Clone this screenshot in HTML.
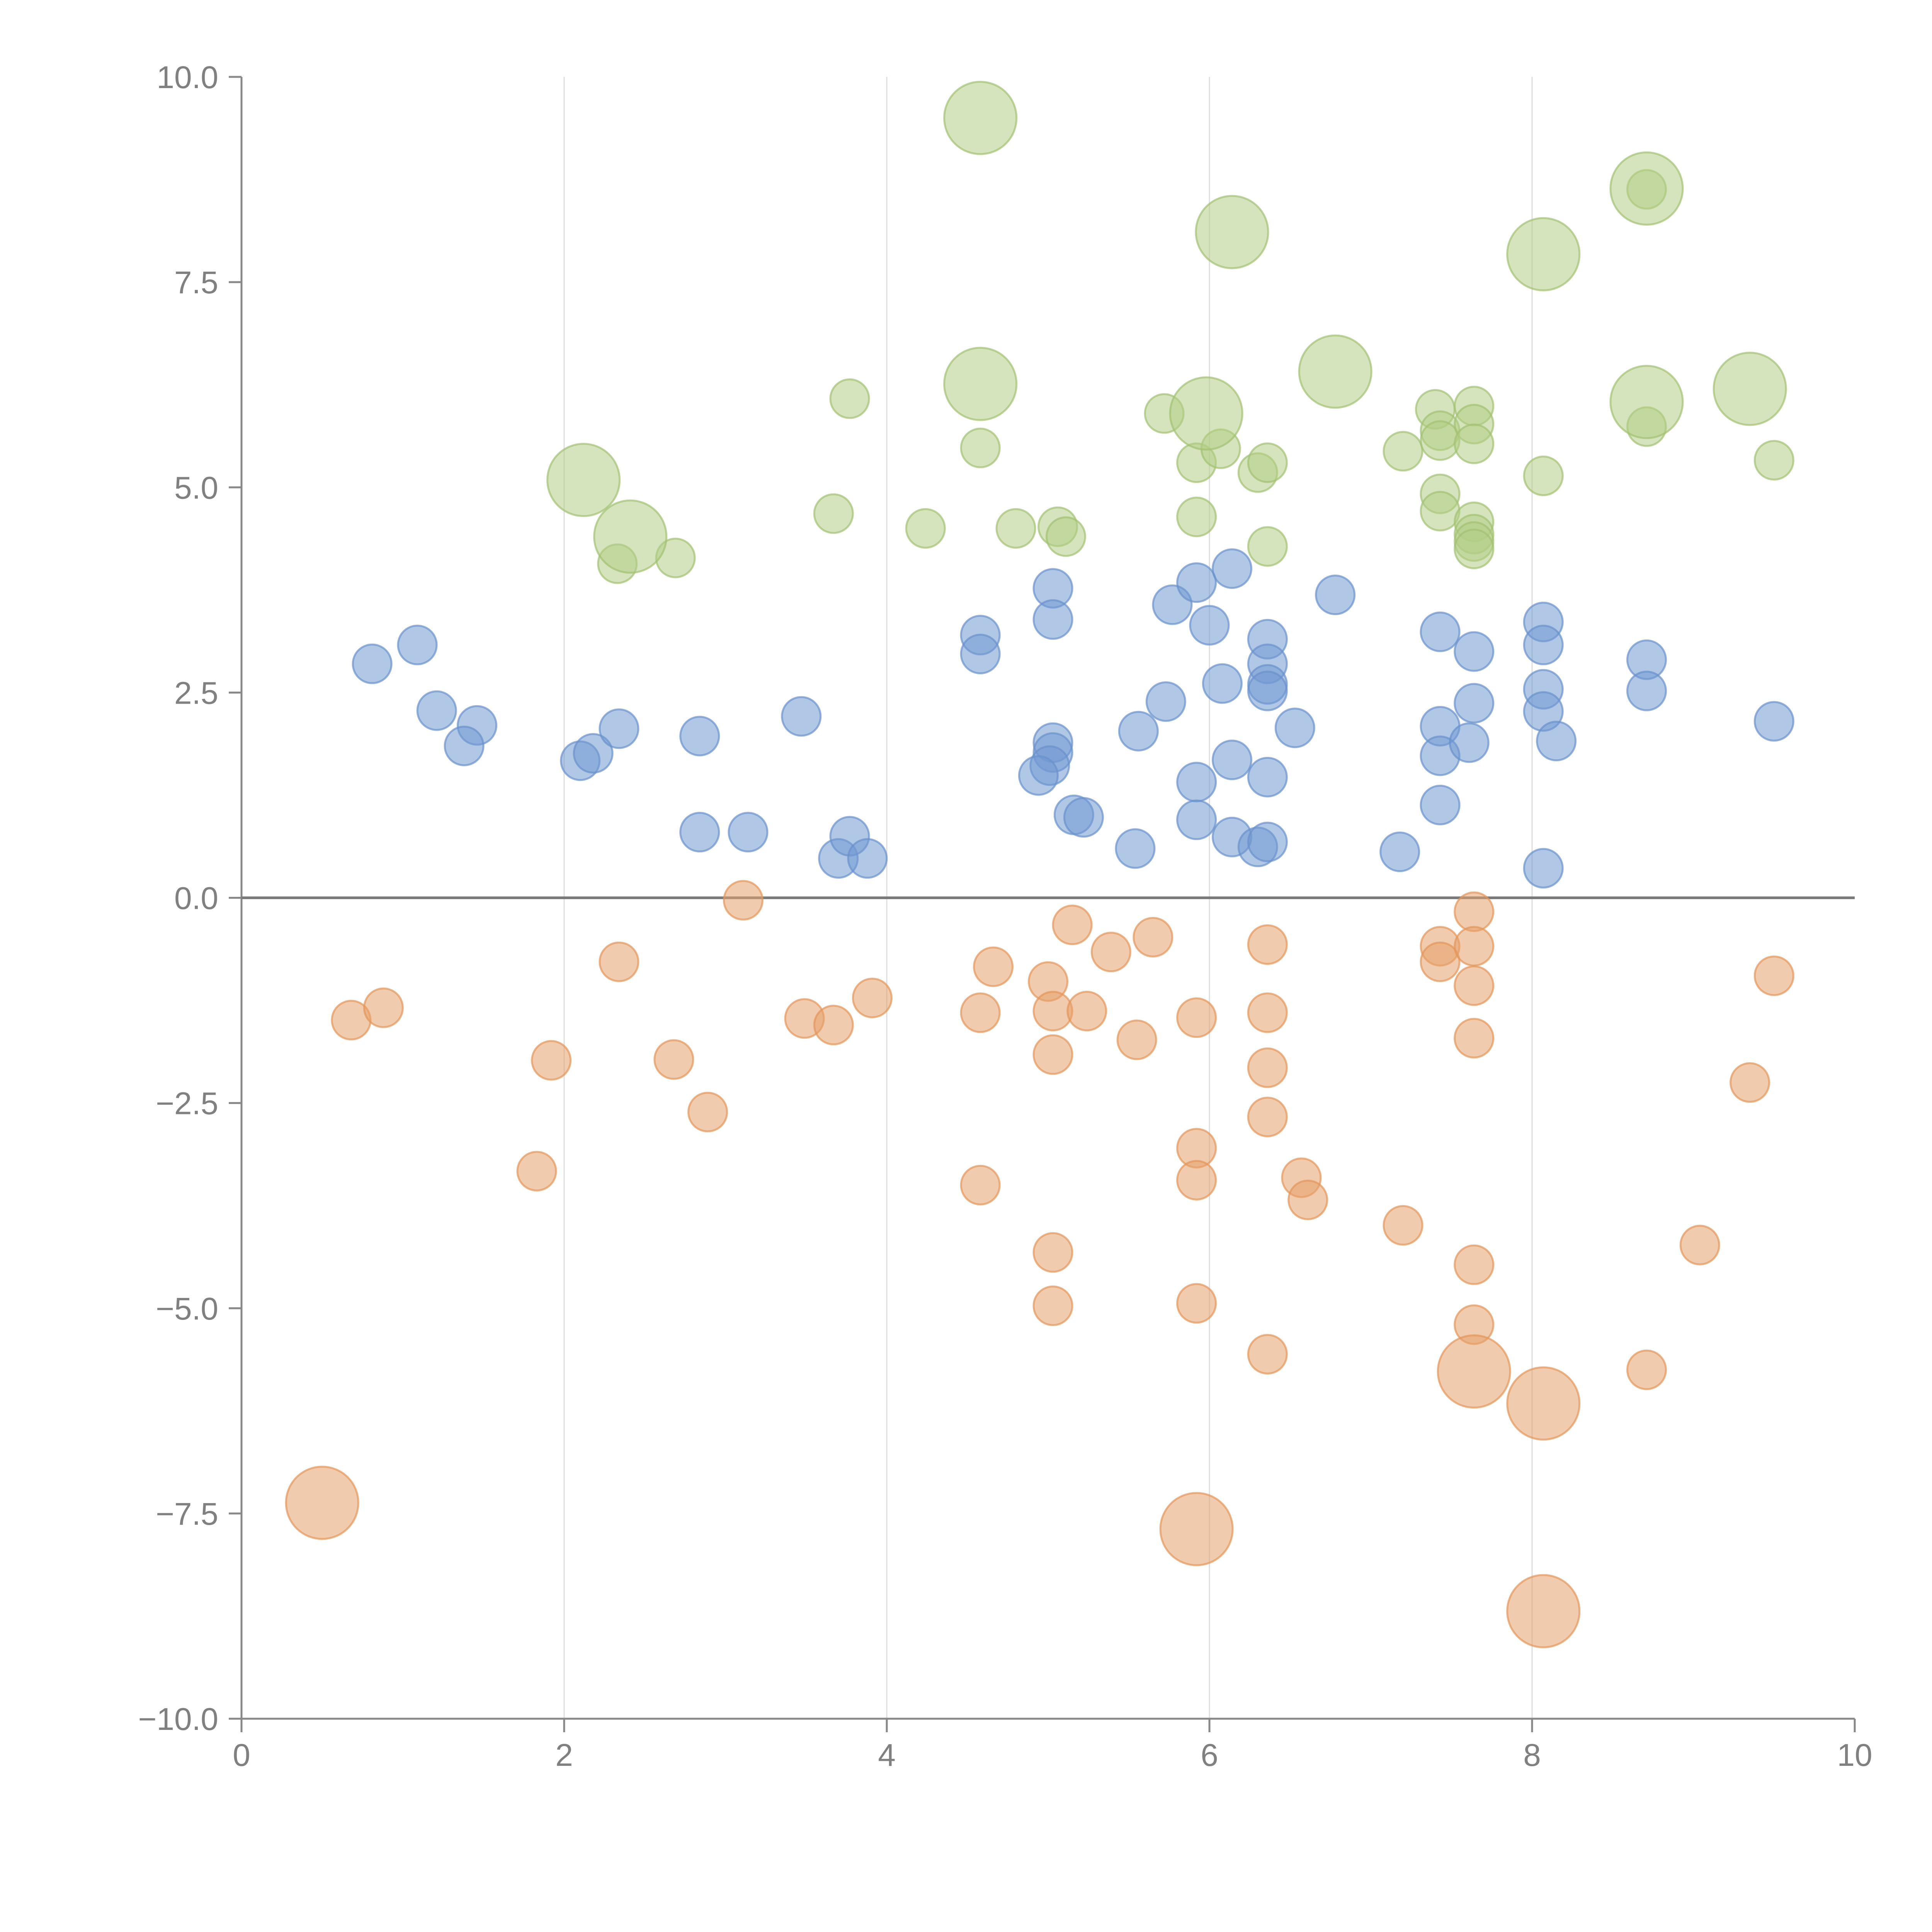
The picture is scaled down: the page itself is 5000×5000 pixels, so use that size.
<!DOCTYPE html>
<html><head><meta charset="utf-8"><style>html,body{margin:0;padding:0;background:#fff}svg{display:block}</style></head>
<body>
<svg id="chart" xmlns="http://www.w3.org/2000/svg" width="5000" height="5000" viewBox="0 0 5000 5000">
<rect width="5000" height="5000" fill="#fff"/>
<g id="grid"></g><g id="axes"></g><g id="marks"></g>
</svg>
<script>
const xTicks=[0,2,4,6,8,10];
const yTicks=[-10,-7.5,-5,-2.5,0,2.5,5,7.5,10];
const yTickLabels=["−10.0","−7.5","−5.0","−2.5","0.0","2.5","5.0","7.5","10.0"];
const blueX=[0.81,1.09,1.21,1.46,1.38,2.10,2.18,2.34,2.84,2.84,3.14,3.47,3.70,3.77,3.88,4.58,4.58,5.03,5.03,5.03,5.03,5.01,4.94,5.16,5.22,5.54,5.56,5.73,5.77,5.92,6.00,5.92,5.92,6.08,6.14,6.14,6.14,6.30,6.36,6.36,6.36,6.36,6.36,6.36,6.53,6.78,7.18,7.43,7.43,7.43,7.43,7.61,7.64,7.64,8.07,8.07,8.07,8.07,8.15,8.07,8.71,8.71,9.50];
const blueY=[2.85,3.08,2.28,2.10,1.85,1.67,1.76,2.06,1.97,0.80,0.80,2.21,0.48,0.75,0.48,3.20,2.97,3.77,3.39,1.89,1.77,1.61,1.49,1.01,0.98,0.60,2.03,2.39,3.57,3.84,3.32,1.41,0.95,2.61,4.01,1.68,0.74,0.62,0.68,3.15,2.85,2.60,2.52,1.47,2.07,3.69,0.56,3.24,2.09,1.73,1.13,1.89,2.37,3.00,3.36,3.08,2.54,2.27,1.91,0.36,2.90,2.52,2.15];
const orangeX=[0.68,0.88,1.92,1.83,2.34,2.68,2.89,3.11,3.49,3.67,3.91,4.58,4.58,4.66,5.00,5.03,5.03,5.03,5.03,5.15,5.24,5.39,5.65,5.55,5.92,5.92,5.92,5.92,6.36,6.36,6.36,6.36,6.36,6.57,6.61,7.20,7.43,7.43,7.64,7.64,7.64,7.64,7.64,7.64,8.71,9.04,9.35,9.50,0.50,5.92,7.64,8.07,8.07];
const orangeY=[-1.49,-1.34,-1.98,-3.33,-0.78,-1.97,-2.61,-0.03,-1.47,-1.55,-1.22,-1.40,-3.50,-0.84,-1.02,-1.38,-1.91,-4.32,-4.97,-0.33,-1.38,-0.66,-0.48,-1.73,-1.46,-3.05,-3.44,-4.94,-0.57,-1.40,-2.07,-2.67,-5.56,-3.41,-3.68,-3.99,-0.59,-0.78,-0.17,-0.59,-1.07,-1.71,-4.47,-5.20,-5.75,-4.23,-2.25,-0.95,-7.37,-7.69,-5.77,-6.16,-8.69];
const orangeSize=[1,1,1,1,1,1,1,1,1,1,1,1,1,1,1,1,1,1,1,1,1,1,1,1,1,1,1,1,1,1,1,1,1,1,1,1,1,1,1,1,1,1,1,1,1,1,1,1,3.5,3.5,3.5,3.5,3.5];
const greenX=[3.77,3.67,4.24,4.58,4.80,5.06,5.11,2.33,2.69,5.72,5.92,5.92,6.07,6.30,6.36,6.36,7.20,7.40,7.43,7.43,7.43,7.43,7.64,7.64,7.64,7.64,7.64,7.64,7.64,8.07,8.71,8.71,9.50,4.58,4.58,2.12,2.41,6.14,5.98,6.78,8.07,8.71,8.71,9.35];
const greenY=[6.08,4.68,4.50,5.48,4.50,4.52,4.40,4.07,4.14,5.90,5.30,4.64,5.47,5.18,5.30,4.28,5.44,5.95,5.69,5.57,4.92,4.71,5.99,5.77,5.53,4.58,4.43,4.34,4.25,5.14,8.63,5.74,5.33,9.50,6.26,5.09,4.40,8.11,5.90,6.41,7.84,8.64,6.04,6.20];
const greenSize=[1,1,1,1,1,1,1,1,1,1,1,1,1,1,1,1,1,1,1,1,1,1,1,1,1,1,1,1,1,1,1,1,1,3.5,3.5,3.5,3.5,3.5,3.5,3.5,3.5,3.5,3.5,3.5];

const NS="http://www.w3.org/2000/svg";
const X0=625,X1=4800,Y0=4448,Y1=199;
function sx(v){return X0+(v-0)/(10-0)*(X1-X0);}
function sy(v){return Y0-(v+10)/20*(Y0-Y1);}
function rr(s){return 50*Math.sqrt(s);}
function mk(tag,attrs,parent){const e=document.createElementNS(NS,tag);for(const k in attrs)e.setAttribute(k,attrs[k]);parent.appendChild(e);return e;}
const grid=document.getElementById('grid'),axes=document.getElementById('axes'),marks=document.getElementById('marks');

xTicks.forEach(function(t){
  if(t===0||t===10)return;
  const g=mk('line',{x1:sx(t),x2:sx(t),y1:Y1,y2:Y0,stroke:'#dcdcdc','stroke-width':3},grid);
  
  
});
const ya=mk('line',{x1:X0,x2:X0,y1:Y1,y2:Y0,stroke:'#888','stroke-width':5},axes);


const xa=mk('line',{x1:X0,x2:X1,y1:Y0,y2:Y0,stroke:'#888','stroke-width':5},axes);


const zl=mk('line',{x1:X0,x2:X1,y1:sy(0),y2:sy(0),stroke:'#7a7a7a','stroke-width':7},axes);


xTicks.forEach(function(t){
  const tk=mk('line',{x1:sx(t),x2:sx(t),y1:Y0,y2:Y0+35,stroke:'#888','stroke-width':5},axes);
  
  
  const tx=mk('text',{x:sx(t),y:Y0+122,'text-anchor':'middle','font-family':'Liberation Sans, sans-serif','font-size':82,fill:'#808080'},axes);
  tx.textContent=String(t);
  
  
});
yTicks.forEach(function(t,i){
  const tk=mk('line',{x1:X0-33,x2:X0,y1:sy(t),y2:sy(t),stroke:'#888','stroke-width':5},axes);
  
  
  const tx=mk('text',{x:X0-60,y:sy(t)+29,'text-anchor':'end','font-family':'Liberation Sans, sans-serif','font-size':82,fill:'#808080'},axes);
  tx.textContent=yTickLabels[i];
  
  
});
function series(xs,ys,ss,fill,stroke,name){
  xs.forEach(function(x,i){
    const c=mk('circle',{cx:sx(x),cy:sy(ys[i]),r:rr(ss?ss[i]:1),fill:fill,'fill-opacity':0.55,stroke:stroke,'stroke-opacity':0.7,'stroke-width':5},marks);
    
    
  });
}
series(greenX,greenY,greenSize,'#b3cd85','#a3c073','green-bubble');
series(blueX,blueY,null,'#7199d2','#6a91cc','blue-bubble');
series(orangeX,orangeY,orangeSize,'#e6a06a','#e2955a','orange-bubble');
</script>
</body></html>
